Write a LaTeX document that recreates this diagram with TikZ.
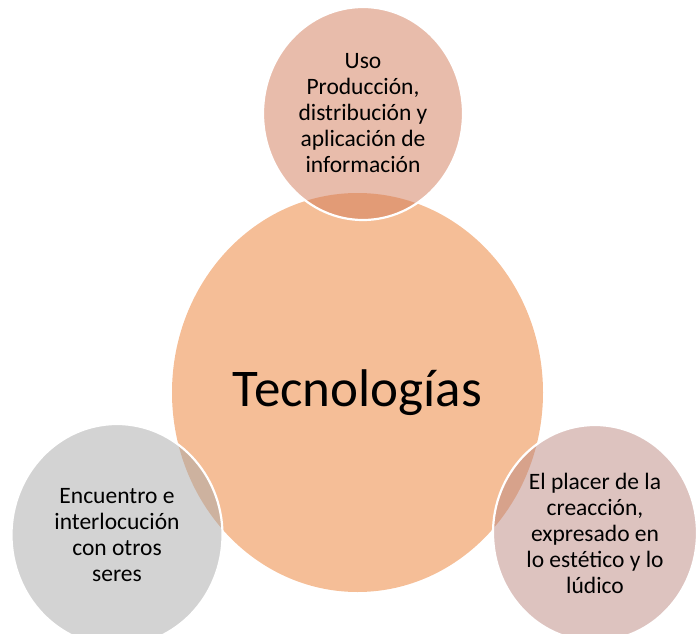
\documentclass[tikz,border=0pt]{standalone}
\usepackage{fontspec}
\setmainfont{Carlito}
\usetikzlibrary{shapes.geometric}
\definecolor{central}{RGB}{245,190,151}
\definecolor{topc}{RGB}{209,121,87}
\definecolor{leftc}{RGB}{167,167,167}
\definecolor{rightc}{RGB}{187,135,128}
\tikzset{
  hub/.style={ellipse, fill=central, inner sep=0pt, minimum width=371pt, minimum height=399pt,
    font=\fontsize{53}{60}\selectfont},
  sat/.style={ellipse, inner sep=0pt, draw=white, line width=2.2pt, fill opacity=0.5,
    draw opacity=1, text opacity=1, align=center, font=\fontsize{23.5}{26}\selectfont}
}
\begin{document}
\begin{tikzpicture}[x=1pt,y=-1pt]
\useasboundingbox (0,0) rectangle (696,634);
\clip (0,0) rectangle (696,634);
\node[hub] (hub) at (357.5,392.5) {Tecnologías};
\node[sat, fill=topc, minimum width=200pt, minimum height=213pt] (top) at (363,113.5)
  {Uso\\Producción,\\distribución y\\aplicación de\\información};
\node[sat, fill=leftc, minimum width=211pt, minimum height=222pt] (left) at (117,535)
  {Encuentro e\\interlocución\\con otros\\seres};
\node[sat, fill=rightc, minimum width=204pt, minimum height=216pt] (right) at (595,533)
  {El placer de la\\creacción,\\expresado en\\lo estético y lo\\lúdico};
\end{tikzpicture}
\end{document}
